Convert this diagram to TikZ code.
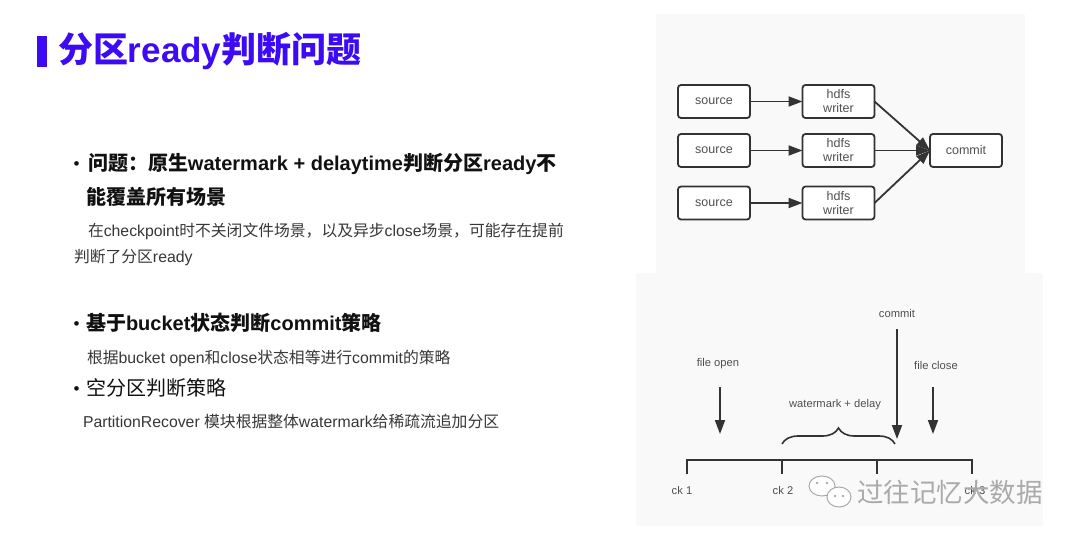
\documentclass[tikz,border=0pt]{standalone}
\usepackage{fontspec}
\setmainfont{Liberation Sans}
\newfontfamily\cjk{Noto Sans CJK SC}
\newcommand\zh[1]{{\cjk #1}}
\usetikzlibrary{arrows.meta,decorations.pathreplacing}
\definecolor{titlec}{RGB}{60,10,245}
\definecolor{bodyc}{RGB}{17,17,17}
\definecolor{subc}{RGB}{55,55,55}
\definecolor{linec}{RGB}{51,51,51}
\definecolor{panelc}{RGB}{249,249,249}
\definecolor{labc}{RGB}{80,80,80}
\definecolor{wmc}{RGB}{170,170,170}
\begin{document}
\begin{tikzpicture}[x=1pt,y=-1pt,
  every node/.style={inner sep=0pt,outer sep=0pt},
  head/.style={anchor=base west,text=bodyc,font=\fontsize{20}{20}\selectfont\bfseries},
  headn/.style={anchor=base west,text=bodyc,font=\fontsize{20}{20}\selectfont},
  sub/.style={anchor=base west,text=subc,font=\fontsize{15.8}{16}\selectfont},
  bul/.style={anchor=base,text=bodyc,font=\fontsize{17}{17}\selectfont},
  box/.style={draw=linec,line width=1.8pt,rounded corners=3pt,fill=white,
    minimum width=72pt,minimum height=33pt,text=labc,
    font=\fontsize{12.5}{14}\selectfont,align=center},
  arr/.style={draw=linec,line width=1.8pt,-{Triangle[length=14pt,width=10pt]}},
  tl/.style={draw=linec,line width=1.8pt},
  lab/.style={text=labc,font=\fontsize{11.2}{12}\selectfont}]
\useasboundingbox (0,0) rectangle (1080,543);
\fill[white] (0,0) rectangle (1080,543);
% title
\fill[titlec] (37,36) rectangle (47,67);
\node[anchor=base west,text=titlec,font=\fontsize{35}{35}\selectfont\bfseries] (title) at (58,63) {\zh{分区}ready\zh{判断问题}};
% bullets
\node[bul] (d1) at (76.5,169.5) {•};
\node[head] (b1) at (88,170.6) {\zh{问题：原生}watermark + delaytime\zh{判断分区}ready\zh{不}};
\node[head] (b1b) at (86,204.6) {\zh{能覆盖所有场景}};
\node[sub] (s1) at (88,236) {\zh{在}checkpoint\zh{时不关闭文件场景，以及异步}close\zh{场景，可能存在提前}};
\node[sub] (s1b) at (74,262) {\zh{判断了分区}ready};
\node[bul] (d2) at (76.5,329.5) {•};
\node[head] (b2) at (86,330.6) {\zh{基于}bucket\zh{状态判断}commit\zh{策略}};
\node[sub] (s2) at (87,363) {\zh{根据}bucket open\zh{和}close\zh{状态相等进行}commit\zh{的策略}};
\node[bul] (d3) at (76.5,394.5) {•};
\node[headn] (b3) at (86,395.6) {\zh{空分区判断策略}};
\node[sub] (s3) at (83,427) {PartitionRecover \zh{模块根据整体}watermark\zh{给稀疏流追加分区}};
% panels
\fill[panelc] (656,14) rectangle (1025,273);
\fill[panelc] (636,273) rectangle (1043,526);
% top diagram
\node[box] (src1) at (714,101.5) {source};
\node[box] (hw1) at (838.5,101.5) {hdfs\\writer};
\node[box] (src2) at (714,150.5) {source};
\node[box] (hw2) at (838.5,150.5) {hdfs\\writer};
\node[box] (src3) at (714,203) {source};
\node[box] (hw3) at (838.5,203) {hdfs\\writer};
\node[box] (cm) at (966,150.5) {commit};
\draw[arr] (src1) -- (hw1);
\draw[arr] (src2) -- (hw2);
\draw[arr] (src3) -- (hw3);
\draw[arr] (hw1.east) -- (cm.west);
\draw[arr] (hw2.east) -- (cm.west);
\draw[arr] (hw3.east) -- (cm.west);
% timeline
\coordinate (t1) at (687,460);
\coordinate (t2) at (782,460);
\coordinate (t3) at (877,460);
\coordinate (t4) at (972,460);
\draw[tl] ([yshift=-14pt]t1) -- (t1) -- (t4) -- ([yshift=-14pt]t4);
\draw[tl] (t2) -- ([yshift=-14pt]t2);
\draw[tl] (t3) -- ([yshift=-14pt]t3);
\coordinate (bra) at (782,444);
\coordinate (brb) at (895,444);
\draw[tl,line width=1.6pt,decorate,decoration={brace,amplitude=16pt}] (bra) -- (brb);
\node[lab] (lwd) at (835,405) {watermark + delay};
\node[lab] (lcm) at (897,313) {commit};
\node[lab] (lfo) at (718,364) {file open};
\node[lab] (lfc) at (936,365) {file close};
\coordinate (cma) at (897,329);
\coordinate (cmb) at (897,439);
\coordinate (foa) at (720,387);
\coordinate (fob) at (720,434);
\coordinate (fca) at (933,387);
\coordinate (fcb) at (933,434);
\draw[arr] (cma) -- (cmb);
\draw[arr] (foa) -- (fob);
\draw[arr] (fca) -- (fcb);
\node[lab] (ck1) at (682,490) {ck 1};
\node[lab] (ck2) at (783,490) {ck 2};
\node[lab] (ck3) at (975,490) {ck 3};
% watermark
\draw[wmc,line width=1pt,fill=white] (822,486) ellipse (13 and 10);
\draw[wmc,line width=1pt,fill=white] (839,497) ellipse (12 and 10);
\fill[wmc] (817,483) circle (1.3) (827,483) circle (1.3) (835,496) circle (1.3) (843,496) circle (1.3);
\node[anchor=west,text=wmc,font=\cjk\fontsize{26.5}{27}\selectfont] (wm) at (857,492) {过往记忆大数据};
\end{tikzpicture}
\end{document}
